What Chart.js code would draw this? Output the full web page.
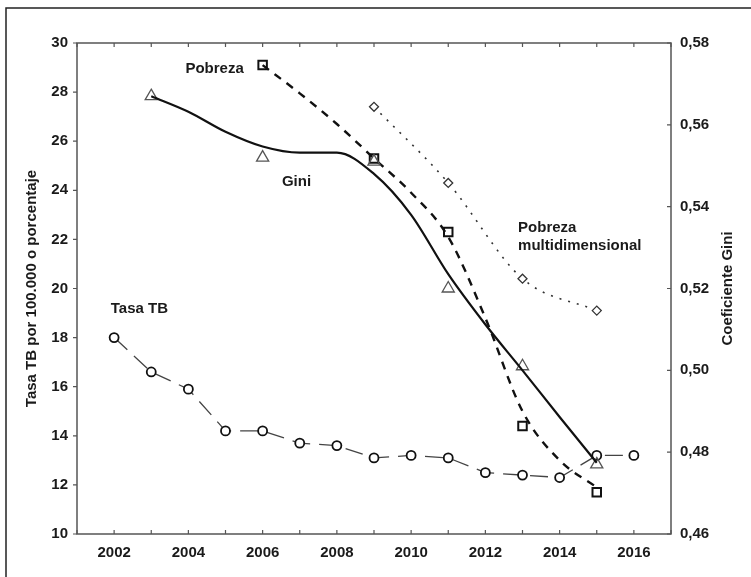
<!DOCTYPE html>
<html>
<head>
<meta charset="utf-8">
<script src="https://cdn.jsdelivr.net/npm/chart.js@4.4.0/dist/chart.umd.min.js"></script>
<style>
  html, body { margin: 0; padding: 0; background: #fff; }
  #wrap { width: 751px; height: 577px; }
</style>
</head>
<body>
<div id="wrap"><canvas id="chart" width="751" height="577"></canvas></div>
<script>
// Tasa TB (circles)
const tbYears = [2002, 2003, 2004, 2005, 2006, 2007, 2008, 2009, 2010, 2011, 2012, 2013, 2014, 2015, 2016];
const tbRate = [18.0, 16.6, 15.9, 14.2, 14.2, 13.7, 13.6, 13.1, 13.2, 13.1, 12.5, 12.4, 12.3, 13.2, 13.2];

// Pobreza (squares) + its smoothed dashed curve
const povYears = [2006, 2009, 2011, 2013, 2015];
const poverty = [29.1, 25.3, 22.3, 14.4, 11.7];
const povCurveYears = [2006, 2007, 2008, 2009, 2010, 2011, 2012, 2013, 2014, 2015];
const povCurve = [29.1, 27.95, 26.7, 25.3, 23.9, 22.1, 18.8, 15.0, 13.0, 11.9];

// Pobreza multidimensional (diamonds)
const multiYears = [2009, 2011, 2013, 2015];
const multiPoverty = [27.4, 24.3, 20.4, 19.1];

// Gini (triangles, right axis) + fitted solid curve
const giniYears = [2003, 2006, 2009, 2011, 2013, 2015];
const gini = [0.567, 0.552, 0.551, 0.520, 0.501, 0.477];
const giniCurveYears = [2003, 2004, 2005, 2006, 2007, 2008, 2009, 2010, 2011, 2012, 2013, 2014, 2015];
const giniCurve = [0.567, 0.5632, 0.5583, 0.5547, 0.5532, 0.5532, 0.548, 0.538, 0.5235, 0.5112, 0.500, 0.4886, 0.4774];

// ticks
const yearTicks = [2001, 2002, 2003, 2004, 2005, 2006, 2007, 2008, 2009, 2010, 2011, 2012, 2013, 2014, 2015, 2016, 2017];
const leftTicks = [10, 12, 14, 16, 18, 20, 22, 24, 26, 28, 30];
const rightTicks = [0.46, 0.48, 0.50, 0.52, 0.54, 0.56, 0.58];

const pts = (xs, ys) => xs.map((x, i) => ({ x: x, y: ys[i] }));

const FONT = "'Liberation Sans', Arial, sans-serif";
const INK = "#1a1a1a";

const decorations = {
    id: "decorations",
    afterDraw(chart) {
        const ctx = chart.ctx;
        const a = chart.chartArea;
        const x = chart.scales.x, y = chart.scales.y, y2 = chart.scales.y2;
        ctx.save();

        // outer figure border (cut off at right/bottom)
        ctx.strokeStyle = "#222";
        ctx.lineWidth = 1.5;
        ctx.beginPath();
        ctx.moveTo(6, 577);
        ctx.lineTo(6, 8);
        ctx.lineTo(751, 8);
        ctx.stroke();

        // plot frame
        ctx.strokeStyle = "#555";
        ctx.lineWidth = 1.5;
        ctx.strokeRect(a.left, a.top, a.right - a.left, a.bottom - a.top);

        // tick marks
        ctx.lineWidth = 1.2;
        ctx.beginPath();
        yearTicks.forEach(v => {
            const px = x.getPixelForValue(v);
            ctx.moveTo(px, a.bottom); ctx.lineTo(px, a.bottom - 4);
            ctx.moveTo(px, a.top); ctx.lineTo(px, a.top + 4);
        });
        leftTicks.forEach(v => {
            const py = y.getPixelForValue(v);
            ctx.moveTo(a.left, py); ctx.lineTo(a.left - 4, py);
        });
        rightTicks.forEach(v => {
            const py = y2.getPixelForValue(v);
            ctx.moveTo(a.right, py); ctx.lineTo(a.right - 4, py);
        });
        ctx.stroke();

        // series labels
        ctx.fillStyle = INK;
        ctx.font = "bold 15px " + FONT;
        ctx.textAlign = "left";
        ctx.textBaseline = "middle";
        const label = (t, vx, vy) => ctx.fillText(t, x.getPixelForValue(vx), y.getPixelForValue(vy));
        label("Pobreza", 2003.92, 28.95);
        label("Gini", 2006.52, 24.34);
        label("Tasa TB", 2001.91, 19.16);
        label("Pobreza", 2012.88, 22.46);
        label("multidimensional", 2012.88, 21.73);

        // axis titles, both read bottom-to-top
        const cy = (a.top + a.bottom) / 2;
        ctx.textAlign = "center";
        ctx.translate(32, cy);
        ctx.rotate(-Math.PI / 2);
        ctx.fillText("Tasa TB por 100.000 o porcentaje", 0, 0);
        ctx.rotate(Math.PI / 2);
        ctx.translate(-32, -cy);
        ctx.translate(728, cy);
        ctx.rotate(-Math.PI / 2);
        ctx.fillText("Coeficiente Gini", 0, 0);
        ctx.restore();
    }
};

const tickFont = { family: FONT, size: 15, weight: "bold" };

new Chart(document.querySelector("#chart").getContext("2d"), {
    type: "line",
    data: {
        datasets: [
            {
                label: "Gini curva",
                data: pts(giniCurveYears, giniCurve),
                yAxisID: "y2",
                borderColor: "#111",
                borderWidth: 2.2,
                pointRadius: 0,
                cubicInterpolationMode: "monotone",
                fill: false
            },
            {
                label: "Gini",
                data: pts(giniYears, gini),
                yAxisID: "y2",
                showLine: false,
                pointStyle: "triangle",
                pointRadius: 7,
                pointBorderWidth: 1.3,
                pointBorderColor: "#555",
                pointBackgroundColor: "rgba(255,255,255,0)"
            },
            {
                label: "Pobreza curva",
                data: pts(povCurveYears, povCurve),
                yAxisID: "y",
                borderColor: "#111",
                borderWidth: 2.4,
                borderDash: [8, 7],
                pointRadius: 0,
                cubicInterpolationMode: "monotone",
                fill: false
            },
            {
                label: "Pobreza",
                data: pts(povYears, poverty),
                yAxisID: "y",
                showLine: false,
                pointStyle: "rect",
                pointRadius: 6,
                pointBorderWidth: 2,
                pointBorderColor: "#111",
                pointBackgroundColor: "#fff"
            },
            {
                label: "Pobreza multidimensional",
                data: pts(multiYears, multiPoverty),
                yAxisID: "y",
                borderColor: "#333",
                borderWidth: 1.6,
                borderDash: [2, 7],
                cubicInterpolationMode: "monotone",
                pointStyle: "rectRot",
                pointRadius: 4.5,
                pointBorderWidth: 1.3,
                pointBorderColor: "#333",
                pointBackgroundColor: "#fff",
                fill: false
            },
            {
                label: "Tasa TB",
                data: pts(tbYears, tbRate),
                yAxisID: "y",
                borderColor: "#444",
                borderWidth: 1.3,
                borderDash: [18, 9],
                tension: 0,
                pointStyle: "circle",
                pointRadius: 4.5,
                pointBorderWidth: 1.8,
                pointBorderColor: "#111",
                pointBackgroundColor: "#fff",
                fill: false
            }
        ]
    },
    options: {
        responsive: false,
        animation: false,
        layout: { padding: { top: 43, left: 0, right: 0, bottom: 0 } },
        plugins: {
            legend: { display: false },
            tooltip: { enabled: false }
        },
        scales: {
            x: {
                type: "linear",
                min: 2001,
                max: 2017,
                afterBuildTicks: s => { s.ticks = yearTicks.map(v => ({ value: v })); },
                afterFit: s => { s.height = 43; },
                grid: { display: false, drawTicks: false },
                border: { display: false },
                ticks: {
                    autoSkip: false,
                    maxRotation: 0,
                    padding: 10,
                    color: INK,
                    font: tickFont,
                    callback: v => (v % 2 === 0 && v > 2001 && v < 2017) ? String(v) : ""
                }
            },
            y: {
                position: "left",
                min: 10,
                max: 30,
                afterBuildTicks: s => { s.ticks = leftTicks.map(v => ({ value: v })); },
                afterFit: s => { s.width = 77; },
                grid: { display: false, drawTicks: false },
                border: { display: false },
                ticks: { padding: 9, color: INK, font: tickFont }
            },
            y2: {
                position: "right",
                min: 0.46,
                max: 0.58,
                afterBuildTicks: s => { s.ticks = rightTicks.map(v => ({ value: v })); },
                afterFit: s => { s.width = 80; },
                grid: { display: false, drawTicks: false },
                border: { display: false },
                ticks: {
                    padding: 9,
                    color: INK,
                    font: tickFont,
                    callback: v => v.toFixed(2).replace(".", ",")
                }
            }
        }
    },
    plugins: [decorations]
});
</script>
</body>
</html>
